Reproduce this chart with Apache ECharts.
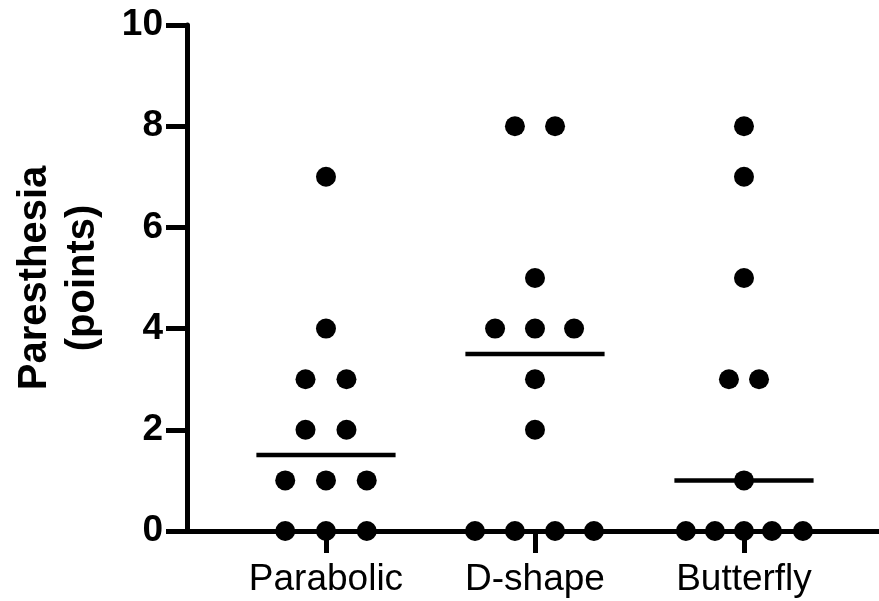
<!DOCTYPE html>
<html>
<head>
<meta charset="utf-8">
<script src="https://cdn.jsdelivr.net/npm/echarts@6/dist/echarts.min.js"></script>
<style>html,body{margin:0;padding:0;background:#fff}#c{width:879px;height:601px}</style>
</head>
<body>
<div id="c"></div>
<script>
// Categories and their axis positions
var categories = ['Parabolic', 'D-shape', 'Butterfly'];
var yTicks = [0, 2, 4, 6, 8, 10];

// Values (points)
var parabolicValues = [0, 0, 0, 1, 1, 1, 2, 2, 3, 3, 4, 7];
var dshapeValues    = [0, 0, 0, 0, 2, 3, 4, 4, 4, 5, 8, 8];
var butterflyValues = [0, 0, 0, 0, 0, 1, 3, 3, 5, 7, 8];

// Horizontal scatter offsets (in category units) as seen in the picture
var parabolicOffsets = [-0.195, 0, 0.195, -0.195, 0, 0.195, -0.098, 0.098, -0.098, 0.098, 0, 0];
var dshapeOffsets    = [-0.287, -0.096, 0.096, 0.282, 0, 0, -0.191, 0, 0.187, 0, -0.096, 0.096];
var butterflyOffsets = [-0.278, -0.139, 0, 0.134, 0.282, 0, -0.072, 0.072, 0, 0, 0];

// Medians
var medians = [1.5, 3.5, 1];
var medianHalfWidth = 0.333;

var groups = [
  { values: parabolicValues, offsets: parabolicOffsets },
  { values: dshapeValues, offsets: dshapeOffsets },
  { values: butterflyValues, offsets: butterflyOffsets }
];

var series = [];
groups.forEach(function (g, i) {
  var pos = i + 1;
  series.push({
    type: 'scatter',
    symbol: 'circle',
    symbolSize: 20,
    itemStyle: { color: '#000', opacity: 1 },
    z: 3,
    data: g.values.map(function (v, k) { return [pos + g.offsets[k], v]; })
  });
  series.push({
    type: 'line',
    symbol: 'none',
    lineStyle: { color: '#000', width: 4.5 },
    z: 4,
    data: [[pos - medianHalfWidth, medians[i]], [pos + medianHalfWidth, medians[i]]]
  });
});

var chart = echarts.init(document.getElementById('c'));
chart.setOption({
  animation: false,
  backgroundColor: '#fff',
  grid: { left: 187, right: 0, top: 25, bottom: 70, containLabel: false },
  xAxis: {
    type: 'value',
    min: 0.335,
    max: 3.646,
    splitLine: { show: false },
    axisLine: { show: true, onZero: false, lineStyle: { color: '#000', width: 5 } },
    axisTick: { show: true, inside: false, length: 22, customValues: [1, 2, 3], lineStyle: { color: '#000', width: 5 } },
    axisLabel: {
      customValues: [1, 2, 3],
      margin: 30,
      color: '#000',
      fontFamily: 'Liberation Sans, Arial, sans-serif',
      fontSize: 37,
      formatter: function (v) { return categories[Math.round(v) - 1] || ''; }
    }
  },
  yAxis: {
    type: 'value',
    min: 0,
    max: 10,
    interval: 2,
    splitLine: { show: false },
    axisLine: { show: true, lineStyle: { color: '#000', width: 5 } },
    axisTick: { show: true, length: 21, lineStyle: { color: '#000', width: 5 } },
    axisLabel: {
      margin: 24,
      color: '#000',
      fontFamily: 'Liberation Sans, Arial, sans-serif',
      fontWeight: 'bold',
      fontSize: 37,
      formatter: function (v) { return yTicks.indexOf(v) >= 0 ? String(v) : ''; }
    },
    name: 'Paresthesia\n(points)',
    nameLocation: 'middle',
    nameGap: 80,
    nameTextStyle: {
      color: '#000',
      fontFamily: 'Liberation Sans, Arial, sans-serif',
      fontWeight: 'bold',
      fontSize: 40,
      lineHeight: 48
    }
  },
  series: series
});
</script>
</body>
</html>
